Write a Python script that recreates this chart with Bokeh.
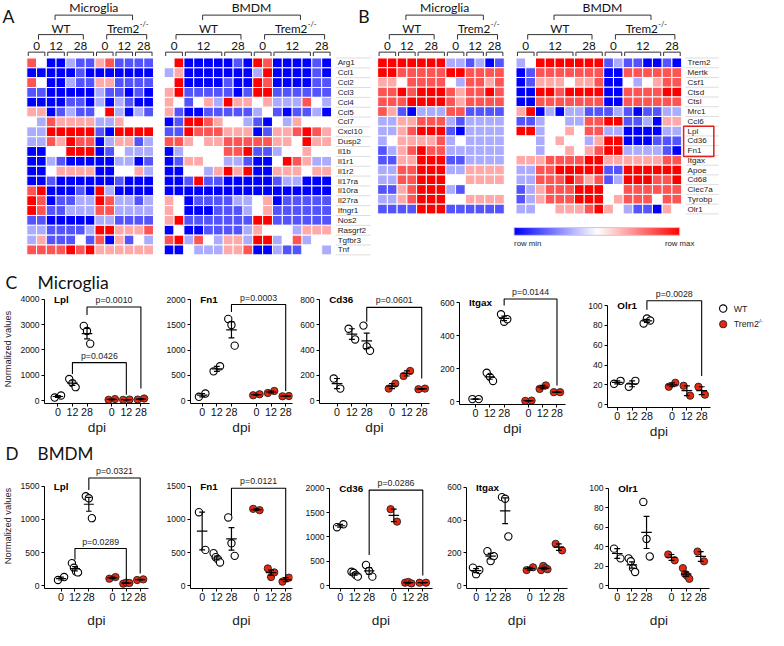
import numpy as np
from bokeh.plotting import figure
from bokeh.layouts import row, column
from bokeh.models import LinearColorMapper, FixedTicker, ColumnDataSource, Range1d
from bokeh.core.properties import value
from bokeh.embed import file_html
from bokeh.resources import INLINE

K = 0.975
SANS = "Liberation Sans"
HEAD = "Lato"


def fs(px):
    return f"{px * K:.1f}px"


# ------------------------------------------------------------------ data
dpi_labels = ["0", "12", "28", "0", "12", "28"]
genes_A = ["Arg1", "Ccl1", "Ccl2", "Ccl3", "Ccl4", "Ccl5", "Ccl7", "Cxcl10", "Dusp2", "Il1b",
           "Il1r1", "Il1r2", "Il17ra", "Il10ra", "Il27ra", "Ifngr1", "Nos2", "Rasgrf2", "Tgfbr3", "Tnf"]
genes_B = ["Trem2", "Mertk", "Csf1", "Ctsd", "Ctsl", "Mrc1", "Ccl6", "Lpl", "Cd36", "Fn1",
           "Itgax", "Apoe", "Cd68", "Clec7a", "Tyrobp", "Olr1"]
groups_micro = [2, 2, 3, 2, 2, 2]
groups_bmdm = [2, 4, 3, 2, 4, 2]

heat_A_micro = [
    [2, 0, -3, -3, -1, -2, -2, 1, 2, -2, -2, -2, -2],
    [-3, -3, -3, -3, -3, -2, -3, -3, -3, -3, -3, -3, -3],
    [2, 0, -3, -3, -1, -2, -2, 1, 1, -2, -2, -2, -2],
    [-2, -2, -3, -3, -3, -3, -3, -1, -2, -2, -3, -2, -3],
    [-3, -3, -3, -3, -2, -2, -3, -1, -3, -1, -2, -3, -3],
    [1, 1, -3, -2, -1, -2, -2, 0, 3, -1, -3, -1, -2],
    [0, -1, 2, 1, 1, 1, 1, -1, -1, 1, 0, 0, 0],
    [-1, -1, 3, 3, 3, 3, 3, -2, -3, 3, 3, 3, 3],
    [-1, -1, 2, 1, 3, 2, 2, -3, -1, 1, 1, -2, -1],
    [-3, -3, 0, 0, 3, 3, 3, -3, -2, 0, -1, -1, -1],
    [-3, -3, -1, -2, -3, -3, -3, -3, -3, -1, -1, -3, -2],
    [-3, -3, 0, 1, 1, 1, 1, -3, -3, 0, 0, 1, -1],
    [-3, -3, -2, -3, -3, -3, -3, -3, -3, -2, -3, -3, -3],
    [2, 3, -3, -3, -3, -2, -3, 3, -1, -3, -3, -3, -3],
    [3, 2, -3, -2, -2, -1, -1, 3, 2, -1, -1, -2, -1],
    [3, 2, -2, -2, -1, -1, -1, 2, 2, -1, -1, -1, -1],
    [-2, -2, -3, -3, -3, -3, -3, -1, -1, -2, -2, -2, -2],
    [-1, -1, -2, -2, -2, -2, -1, 3, 3, 1, 1, 1, 2],
    [-1, 1, -2, -2, -2, 0, -2, 2, -3, 1, -2, 0, -1],
    [2, 2, 2, 2, 3, 2, 3, 1, 1, 1, 1, 1, 1],
]
heat_A_bmdm = [
    [0, 3, -3, -3, -3, -3, -3, -2, -3, 3, 2, -3, -3, -3, -3, -2, -3],
    [-1, 1, -3, -3, -3, -3, -3, -3, -3, -1, 3, -3, -3, -3, -3, -2, -3],
    [0, 3, -3, -3, -3, -3, -2, -3, -3, 3, 2, -3, -3, -3, -3, -2, -2],
    [1, 3, -2, -2, -2, -2, -2, -3, -2, 3, 3, -2, -2, -2, -2, -2, -2],
    [1, 0, -2, 0, 1, -1, 3, 1, 1, 0, 1, -1, -1, -1, 2, 0, -1],
    [1, -2, -3, -3, -2, -2, -2, -2, -2, -1, 0, -2, -3, -2, -2, -1, -3],
    [-3, -2, 3, 3, 2, 1, 0, 0, -1, -2, -3, 0, -1, 1, 0, 0, 0],
    [-2, -2, 3, 2, 2, 2, 1, 1, 1, -3, -2, 1, 1, 2, 3, 2, 1],
    [2, 2, 1, 0, 1, 1, 2, 2, 2, 2, 2, 1, 1, 0, 3, 1, 1],
    [-3, -1, 0, 0, 0, 0, 2, 2, 3, -2, -2, -1, 0, 0, 1, 0, 0],
    [-3, -2, 1, 1, 0, 0, -1, -1, -2, -3, -3, 0, 3, 2, 1, -1, -1],
    [-3, -3, 0, 0, -1, 1, 3, 1, 3, -3, -3, 1, 1, 1, 0, 1, 1],
    [-3, -3, -2, 3, -2, -2, -3, -3, -3, -3, -3, -2, -1, -1, -3, -3, -3],
    [-3, -3, -3, -3, -3, -3, -3, -3, -3, -3, -3, -3, -3, -3, -3, -3, -3],
    [1, 0, -3, -2, -2, -2, -2, -1, -1, 0, 1, -3, -2, -2, -2, -2, -2],
    [1, 0, -3, -3, -3, -2, -2, -2, -1, 0, 1, -2, -2, -2, -2, -2, -2],
    [1, 3, -2, -2, -2, -2, -2, -2, -2, 3, 3, -2, -2, -2, -2, -2, -2],
    [-3, 0, -3, -3, -2, -2, -2, -2, -1, 1, 0, 0, 0, -1, 1, 1, 1],
    [2, 3, -1, 2, 0, -1, 1, 1, -1, 3, 3, -1, 0, 2, -1, 0, 0],
    [-3, -3, 0, -1, -1, -1, 1, 1, 2, -3, -3, -1, -2, -2, 0, 0, -1],
]
heat_B_micro = [
    [3, 3, 3, 3, 3, 3, 3, -1, -1, -2, -1, -3, -2],
    [3, 3, 2, 2, 2, 2, 2, 3, 3, 2, 2, 2, 2],
    [1, 1, 0, 2, 2, 2, 2, 0, -1, 2, 2, 1, 2],
    [2, 2, 3, 2, 3, 3, 3, 2, 1, 2, 2, 3, 2],
    [2, 2, 2, 3, 3, 3, 3, 2, 1, 2, 2, 2, 2],
    [2, 1, -2, -3, -1, -1, -1, 2, 2, -2, -2, -2, -2],
    [-1, -1, 1, 1, 2, 2, 2, -1, -2, -1, -1, -1, -1],
    [-1, -1, 1, 2, 3, 3, 3, -2, -3, -1, -1, -1, -1],
    [-1, 0, 1, 1, 1, 1, 2, -1, 0, -1, -1, -1, -1],
    [-2, -1, 1, 2, 3, 2, 2, -1, -1, -1, -1, -1, -1],
    [-2, -2, 1, 1, 3, 3, 3, -2, -2, -1, -1, -1, -1],
    [-1, -1, 2, 2, 3, 3, 3, -1, -1, 1, 1, 1, 1],
    [-1, -1, 2, 2, 3, 3, 3, 0, 0, 1, 1, 1, 1],
    [-2, -2, 1, 2, 3, 3, 3, -1, -2, 0, 0, 0, 0],
    [-1, -1, 1, 2, 3, 3, 3, 0, 0, 1, 1, 1, 1],
    [-2, -2, -2, -2, 3, 3, 3, -2, -2, -2, -2, -2, -2],
]
heat_B_bmdm = [
    [-1, 0, 3, 3, 3, 3, 3, 3, 3, -2, -1, -2, -2, -3, -3, -2, -3],
    [-3, -2, 2, 2, 2, 2, 2, 2, 2, -3, -3, 2, 2, 2, 2, 2, 2],
    [-3, -2, 1, 1, 1, 0, 1, 1, 2, -3, -3, 0, -1, 0, 1, 2, 2],
    [-3, -3, 3, 3, 2, 3, 3, 3, 3, -3, -3, 2, 2, 2, 2, 3, 3],
    [-3, -3, 2, 2, 2, 2, 2, 2, 2, -3, -3, 2, 2, 2, 2, 2, 2],
    [1, 3, -3, -1, -3, -1, -1, -2, -2, -2, -1, -2, -3, -2, -2, -1, -1],
    [-2, -2, -1, 0, 0, -1, -1, 2, 2, 3, 3, -2, -2, -1, -3, 1, 1],
    [3, 3, -1, 0, 0, 1, 0, 2, 2, -1, -1, -3, -3, -3, -3, -1, -1],
    [0, 0, -1, 0, 1, 0, 0, -1, 1, 3, 3, -3, -3, -3, -2, -2, -2],
    [0, 0, -1, 0, 0, 1, 0, 1, 2, 3, 3, -1, -1, -1, -1, -2, -3],
    [1, 1, 1, 2, 2, 2, 2, 3, 3, 1, 1, 1, 1, 1, 1, 2, 2],
    [-1, -1, 2, 2, 3, 3, 3, 3, 3, -2, -2, 3, 3, 3, 3, 3, 3],
    [-1, -1, 2, 2, 2, 3, 2, 1, 2, -2, -1, 3, 3, 3, 2, 2, 3],
    [-2, -1, 1, 2, 2, 2, 3, 3, 3, 0, 0, 2, 2, 2, 2, 2, 2],
    [-2, -1, 1, 2, 2, 2, 3, 3, 3, 0, 1, 2, 2, 2, 0, 2, 2],
    [-1, -1, 0, 0, 1, 1, 1, 2, 3, 1, 0, -1, -2, -2, -3, 1, 0],
]

# scatter data: 6 groups (WT 0/12/28, Trem2-/- 0/12/28)
C_Lpl = [[120, 200], [850, 690, 530], [2950, 2750, 2250], [30, 60], [30, 40], [40, 80]]
C_Fn1 = [[75, 140], [580, 680], [1620, 1500, 1090], [105, 125], [150, 190], [85, 90]]
C_Cd36 = [[175, 95], [570, 485], [595, 430, 395], [95, 135], [195, 235], [90, 95]]
C_Itgax = [[15, 15], [175, 150, 125], [530, 485, 500], [4, 6], [77, 98], [57, 57]]
C_Olr1 = [[21, 24], [18, 24], [82, 87, 85], [18, 22], [19, 9], [18, 10]]
D_Lpl = [[85, 130], [340, 270, 215, 200], [1350, 1320, 1020], [105, 130], [30, 45, 40], [85, 95]]
D_Fn1 = [[1110, 540], [490, 430, 400, 350], [1030, 640, 450], [1160, 1140], [260, 130, 200], [60, 120]]
D_Cd36 = [[1200, 1260], [285, 265, 220, 185], [425, 300, 185], [1570, 1315], [60, 75, 45], [60, 60]]
D_Itgax = [[110, 70, 95], [210, 150, 180], [540, 530, 300], [95, 112], [95, 120, 108, 100], [255, 215]]
D_Olr1 = [[38, 28], [28, 25, 18, 14], [86, 48, 30], [32, 26], [18, 12, 10, 7], [35, 25]]

# p-value brackets: (group a, group b, bracket y, left leg end, right leg end, text)
C_Lpl_br = [(2, 5, 3700, 3380, 480, "p=0.0010"), (1, 4, 1500, 1050, 230, "p=0.0426")]
C_Fn1_br = [(2, 5, 1905, 1760, 190, "p=0.0003")]
C_Cd36_br = [(2, 5, 740, 625, 175, "p=0.0601")]
C_Itgax_br = [(2, 5, 623, 583, 98, "p=0.0144")]
C_Olr1_br = [(2, 5, 105, 96, 29, "p=0.0028")]
D_Lpl_br = [(2, 5, 1626, 1444, 182, "p=0.0321"), (1, 4, 561, 392, 56, "p=0.0289")]
D_Fn1_br = [(2, 5, 1472, 1065, 126, "p=0.0121")]
D_Cd36_br = [(2, 5, 1962, 629, 210, "p=0.0286")]

legend_labels = ["WT", "Trem2"]

# ------------------------------------------------------------------ colour map
pal = []
for t in np.linspace(-1, 1, 255):
    if t < 0:
        c = int(round(255 * (1 + t)))
        pal.append("#%02x%02xff" % (c, c))
    else:
        c = int(round(255 * (1 - t)))
        pal.append("#ff%02x%02x" % (c, c))
mapper = LinearColorMapper(palette=pal, low=-3, high=3)


def bx(v):
    return int(round(v * K))


HEAT_BOTTOM = 274

# ------------------------------------------------------------------ heat figure
hp = figure(width=764, height=bx(HEAT_BOTTOM), x_range=Range1d(0, 784), y_range=Range1d(HEAT_BOTTOM, 0),
            x_axis_location=None, y_axis_location=None, output_backend="svg",
            toolbar_location=None, min_border=0, frame_align=False)
hp.grid.visible = False
hp.outline_line_color = None


def T(x, y, txt, size, font=HEAD, align="center", baseline="middle", color="#111", style="normal"):
    hp.text(x=[x], y=[y], text=[txt], text_font=value(font), text_font_size=fs(size),
            text_align=align, text_baseline=baseline, text_color=color, text_font_style=style)


def draw_heat(mat, x0, y0, cw, rh):
    xs, ys, vs = [], [], []
    for i, r in enumerate(mat):
        for j, v in enumerate(r):
            xs.append(x0 + cw * (j + 0.5))
            ys.append(y0 + rh * (i + 0.5))
            vs.append(v)
    src = ColumnDataSource(dict(x=xs, y=ys, v=vs))
    hp.rect(x="x", y="y", width=cw, height=rh, source=src,
            fill_color={"field": "v", "transform": mapper}, line_color="white", line_width=1)


def draw_header(x0, cw, groups, title):
    edges = []
    pos = x0
    for n in groups:
        edges.append((pos, pos + n * cw))
        pos += n * cw
    cen = [(a + b) / 2 for a, b in edges]
    hp.multi_line([[a + 1.5, a + 1.5, b - 1.5, b - 1.5] for a, b in edges], [[57, 53, 53, 57]] * 6,
                  line_color="#333", line_width=1)
    hp.text(x=cen, y=[46.5] * 6, text=dpi_labels, text_font=value(HEAD), text_font_size=fs(12),
            text_align="center", text_baseline="middle", text_color="#111")
    g = [(cen[0] + 2, cen[2] + 3), (cen[3] + 2, cen[5] + 3)]
    hp.multi_line([[a, a, b, b] for a, b in g], [[40, 35, 35, 40]] * 2, line_color="#333", line_width=1)
    gc = [(a + b) / 2 for a, b in g]
    T(gc[0], 28.5, "WT", 12)
    T(gc[1] - 20, 28.5, "Trem2", 12, align="left")
    T(gc[1] + 13.5, 25, "-/-", 7.5, align="left")
    hp.multi_line([[gc[0] - 6, gc[0] - 6, gc[1] + 6, gc[1] + 6]], [[20, 15, 15, 20]],
                  line_color="#333", line_width=1)
    T((gc[0] + gc[1]) / 2, 7, title, 12.5)


def draw_genes(genes, x, y0, rh, x_end):
    n = len(genes)
    ys = [y0 + rh * (i + 0.5) for i in range(n)]
    hp.multi_line([[x - 2, x_end]] * (n + 1), [[y0 + rh * i] * 2 for i in range(n + 1)],
                  line_color="#dddddd", line_width=1)
    hp.text(x=[x] * n, y=ys, text=genes, text_font=value(SANS), text_font_size=fs(8.3),
            text_align="left", text_baseline="middle", text_color="#222")


draw_heat(heat_A_micro, 27, 59, 10, 10.1)
draw_header(27, 10, groups_micro, "Microglia")
draw_heat(heat_A_bmdm, 168, 59, 10.1, 10.1)
draw_header(168, 10.1, groups_bmdm, "BMDM")
draw_genes(genes_A, 346, 59, 10.1, 380)

draw_heat(heat_B_micro, 387, 59, 10, 10)
draw_header(387, 10, groups_micro, "Microglia")
draw_heat(heat_B_bmdm, 529, 59, 10, 10)
draw_header(529, 10, groups_bmdm, "BMDM")
draw_genes(genes_B, 705, 59, 10, 737)
hp.quad(left=[701], right=[732], top=[129], bottom=[160], fill_color=None, line_color="#e0201a", line_width=1.5)

T(2, 16, "A", 18, align="left")
T(367, 16, "B", 18, align="left")

# colour bar
hp.image(image=[np.linspace(-3, 3, 255)[None, :]], x=527, y=233, dw=170, dh=8, color_mapper=mapper)
hp.quad(left=[527], right=[697], top=[233], bottom=[241], fill_color=None, line_color="#cccccc", line_width=1)
T(527, 249, "row min", 8, font=SANS, align="left", color="#222")
T(712, 249, "row max", 8, font=SANS, align="right", color="#222")

# ------------------------------------------------------------------ scatter panels
XPOS = [0, 10, 20, 37, 47, 57]
RED = "#e8270f"


def make_sub(gene, data, ymax, ystep, canvas, frame, ticks, brackets, ylabel=False, dpi_gap=1):
    (cx0, cx1), (cy0, cy1) = canvas
    Lf, Rf, Tt, B0 = frame
    t0, t5 = ticks
    ppu = (t5 - t0) / 57.0
    Z = B0 - 3
    ppy = (Z - Tt) / float(ymax)

    def xd(px):
        return 57 + (px - t5) / ppu

    def yd(px):
        return (Z - px) / ppy

    w = bx(cx1) - bx(cx0)
    h = bx(cy1) - bx(cy0)
    p = figure(width=w, height=h, x_range=Range1d(xd(Lf), xd(Rf)), y_range=Range1d(yd(B0), yd(cy0)),
               output_backend="svg", toolbar_location=None, frame_align=False,
               min_border_left=bx(Lf - cx0), min_border_right=max(0, bx(cx1 - Rf)), min_border_top=0,
               min_border_bottom=bx(cy1 - B0))
    p.grid.visible = False
    p.outline_line_color = None
    for ax in (p.xaxis[0], p.yaxis[0]):
        ax.axis_line_color = "black"
        ax.axis_line_width = 1
        ax.major_tick_line_color = "black"
        ax.major_tick_out = 3
        ax.major_tick_in = 0
        ax.minor_tick_line_color = None
        ax.major_label_text_font = SANS
        ax.major_label_text_color = "#111"
        ax.axis_label_text_font = SANS
        ax.axis_label_text_font_style = "normal"
        ax.axis_label_text_color = "#222"
    p.yaxis.bounds = (yd(B0), ymax)
    p.xaxis.ticker = FixedTicker(ticks=XPOS)
    p.xaxis.major_label_overrides = {x: lab for x, lab in zip(XPOS, dpi_labels)}
    p.xaxis.major_label_text_font_size = fs(11)
    p.xaxis.major_label_standoff = 1
    p.xaxis.axis_label = "dpi"
    p.xaxis.axis_label_text_font_size = fs(14)
    p.xaxis.axis_label_standoff = dpi_gap
    p.yaxis.ticker = FixedTicker(ticks=list(range(0, ymax + 1, ystep)))
    p.yaxis.major_label_text_font_size = fs(8.8)
    p.yaxis.major_label_standoff = 2
    if ylabel:
        p.yaxis.axis_label = "Normalized values"
        p.yaxis.axis_label_text_font_size = fs(9.5)
        p.yaxis.axis_label_standoff = 4

    # points
    for gi, vals in enumerate(data):
        n = len(vals)
        offs = np.linspace(-2.2, 2.2, n) if n > 1 else np.array([0.0])
        xs = [XPOS[gi] + o for o in offs]
        if gi < 3:
            p.scatter(xs, vals, marker="circle", size=7.5 * K, fill_color="white", line_color="black",
                      line_width=1.1)
        else:
            p.scatter(xs, vals, marker="circle", size=7.5 * K, fill_color=RED, line_color="#222",
                      line_width=0.9)
    # mean +/- SEM
    sx0, sy0, sx1, sy1 = [], [], [], []
    for gi, vals in enumerate(data):
        v = np.asarray(vals, dtype=float)
        m = v.mean()
        se = v.std(ddof=1) / np.sqrt(len(v))
        xc = XPOS[gi]
        sx0 += [xc - 3.6, xc, xc - 2.0, xc - 2.0]
        sx1 += [xc + 3.6, xc, xc + 2.0, xc + 2.0]
        sy0 += [m, m - se, m - se, m + se]
        sy1 += [m, m + se, m - se, m + se]
    p.segment(sx0, sy0, sx1, sy1, line_color="black", line_width=1.2)

    # brackets
    for (a, b, yb, yl, yr, txt) in brackets:
        xa, xb = XPOS[a], XPOS[b]
        p.line([xa, xa, xb, xb], [yl, yb, yb, yr], line_color="black", line_width=1.1)
        p.text(x=[(xa + xb) / 2], y=[yb + 2 / ppy], text=[txt], text_font=value(SANS),
               text_font_size=fs(9.0), text_align="center", text_baseline="bottom", text_color="#222")
    # gene name
    p.text(x=[xd(Lf + 10)], y=[ymax], text=[gene], text_font=value(SANS), text_font_size=fs(10),
           text_font_style="bold", text_align="left", text_baseline="middle", text_color="black")
    return p


def legend_fig(x0, x1, y0, y1):
    w = bx(x1) - bx(x0)
    h = bx(y1) - bx(y0)
    f = figure(width=w, height=h, x_range=Range1d(x0, x1), y_range=Range1d(y1, y0),
               x_axis_location=None, y_axis_location=None, output_backend="svg",
               toolbar_location=None, min_border=0, frame_align=False)
    f.grid.visible = False
    f.outline_line_color = None
    f.scatter([741], [316], marker="circle", size=7.5 * K, fill_color="white", line_color="black",
              line_width=1.1)
    f.scatter([741], [332], marker="circle", size=7.5 * K, fill_color=RED, line_color="#222",
              line_width=0.9)
    f.text(x=[752, 752], y=[316, 332], text=legend_labels, text_font=value(SANS), text_font_size=fs(9),
           text_align="left", text_baseline="middle", text_color="#222")
    f.text(x=[776.5], y=[328.5], text=["-/-"], text_font=value(SANS), text_font_size=fs(6),
           text_align="left", text_baseline="middle", text_color="#222")
    return f


def label_fig(letter, title, x0, x1, y0, y1, yc, size):
    w = bx(x1) - bx(x0)
    h = bx(y1) - bx(y0)
    f = figure(width=w, height=h, x_range=Range1d(x0, x1), y_range=Range1d(y1, y0),
               x_axis_location=None, y_axis_location=None, output_backend="svg",
               toolbar_location=None, min_border=0, frame_align=False)
    f.grid.visible = False
    f.outline_line_color = None
    f.text(x=[5], y=[yc], text=[letter], text_font=value(HEAD), text_font_size=fs(size),
           text_align="left", text_baseline="middle", text_color="#111")
    f.text(x=[38], y=[yc], text=[title], text_font=value(HEAD), text_font_size=fs(size),
           text_align="left", text_baseline="middle", text_color="#111")
    return f


# Row C (microglia)
C_TOP = HEAT_BOTTOM
c1 = make_sub("Lpl", C_Lpl, 4000, 1000, ((0, 167), (302, 452)), (43, 153, 307, 413), (57, 144),
              C_Lpl_br, ylabel=True)
c2 = make_sub("Fn1", C_Fn1, 2000, 500, ((167, 305), (C_TOP, 452)), (195, 300, 307, 413), (207, 293),
              C_Fn1_br)
c3 = make_sub("Cd36", C_Cd36, 800, 200, ((305, 448), (C_TOP, 452)), (327, 440, 307, 413), (345, 432),
              C_Cd36_br)
c4 = make_sub("Itgax", C_Itgax, 600, 200, ((448, 600), (C_TOP, 452)), (468, 580, 310, 414), (485, 571),
              C_Itgax_br)
c5 = make_sub("Olr1", C_Olr1, 100, 20, ((600, 733), (C_TOP, 452)), (623, 728, 313, 417), (633, 719),
              C_Olr1_br)
legC = legend_fig(733, 784, C_TOP, 452)
labC = label_fig("C", "Microglia", 0, 167, C_TOP, 302, 290, 18)

# Row D (BMDM)
d1 = make_sub("Lpl", D_Lpl, 1500, 500, ((0, 167), (475, 646)), (39, 152, 499, 606), (57, 143),
              D_Lpl_br, ylabel=True, dpi_gap=9)
d2 = make_sub("Fn1", D_Fn1, 1500, 500, ((167, 310), (452, 646)), (195, 300, 499, 606), (207, 293),
              D_Fn1_br, dpi_gap=9)
d3 = make_sub("Cd36", D_Cd36, 2000, 500, ((310, 455), (452, 646)), (337, 443, 501, 606), (348, 433),
              D_Cd36_br, dpi_gap=9)
d4 = make_sub("Itgax", D_Itgax, 600, 200, ((455, 600), (452, 646)), (477, 582, 500, 606), (487, 573),
              [], dpi_gap=9)
d5 = make_sub("Olr1", D_Olr1, 100, 20, ((600, 784), (452, 646)), (624, 728, 501, 606), (633, 719),
              [], dpi_gap=9)
labD = label_fig("D", "BMDM", 0, 167, 452, 475, 465, 17.5)

layout = column(hp,
                row(column(labC, c1), c2, c3, c4, c5, legC),
                row(column(labD, d1), d2, d3, d4, d5))

open("out.html", "w").write(file_html(layout, INLINE))
